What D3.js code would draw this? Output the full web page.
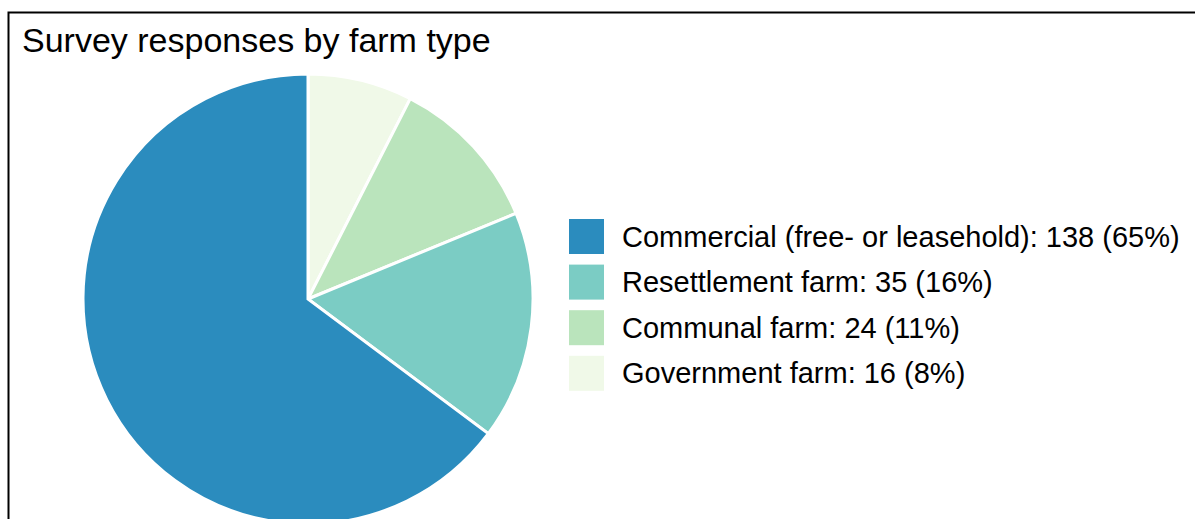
<!DOCTYPE html>
<html>
<head>
<meta charset="utf-8">
<script src="https://cdn.jsdelivr.net/npm/d3@7"></script>
<style>
  html, body { margin: 0; padding: 0; background: #fff; }
  svg { display: block; }
  text { font-family: "Liberation Sans", Arial, sans-serif; fill: #000; }
</style>
</head>
<body>
<svg id="chart" width="1195" height="519"></svg>
<script>
// Farm types and number of survey responses for each
const categories = ["Commercial (free- or leasehold)", "Resettlement farm", "Communal farm", "Government farm"];
const counts = [138, 35, 24, 16];
const percents = [65, 16, 11, 8];
const colors = ["#2b8cbe", "#7bccc4", "#bae4bc", "#f0f9e8"];
const title = "Survey responses by farm type";

const svg = d3.select("#chart");

// Panel border (extends past the right and bottom edges)
svg.append("rect")
  .attr("x", 8.5).attr("y", 12.5)
  .attr("width", 1300).attr("height", 600)
  .attr("fill", "none").attr("stroke", "#000").attr("stroke-width", 2);

svg.append("text")
  .attr("x", 22).attr("y", 52)
  .style("font-size", "34px")
  .text(title);

// Pie: slices run clockwise from 12 o'clock, smallest first
const cx = 308, cy = 299, r = 225;
const data = categories.map((c, i) => ({ name: c, value: counts[i], pct: percents[i], color: colors[i] }));
const drawOrder = data.slice().reverse();

const pie = d3.pie().sort(null).value(d => d.value);
const arc = d3.arc().innerRadius(0).outerRadius(r);

svg.append("g")
  .attr("transform", `translate(${cx},${cy})`)
  .selectAll("path")
  .data(pie(drawOrder))
  .join("path")
  .attr("d", arc)
  .attr("fill", d => d.data.color)
  .attr("stroke", "#fff")
  .attr("stroke-width", 3)
  .attr("stroke-linejoin", "miter");

// Legend
const keyX = 569, keyY0 = 219, keySize = 35, step = 45.6;
const y = d3.scaleBand().domain(categories).range([keyY0, keyY0 + step * categories.length]).paddingInner(0);
const legend = svg.append("g");
const items = legend.selectAll("g")
  .data(data)
  .join("g")
  .attr("transform", d => `translate(${keyX},${y(d.name)})`);
items.append("rect")
  .attr("width", keySize).attr("height", keySize)
  .attr("fill", d => d.color);
items.append("text")
  .attr("x", 53).attr("y", keySize / 2)
  .attr("dy", "0.35em")
  .style("font-size", "29px")
  .text(d => `${d.name}: ${d.value} (${d.pct}%)`);
</script>
</body>
</html>
